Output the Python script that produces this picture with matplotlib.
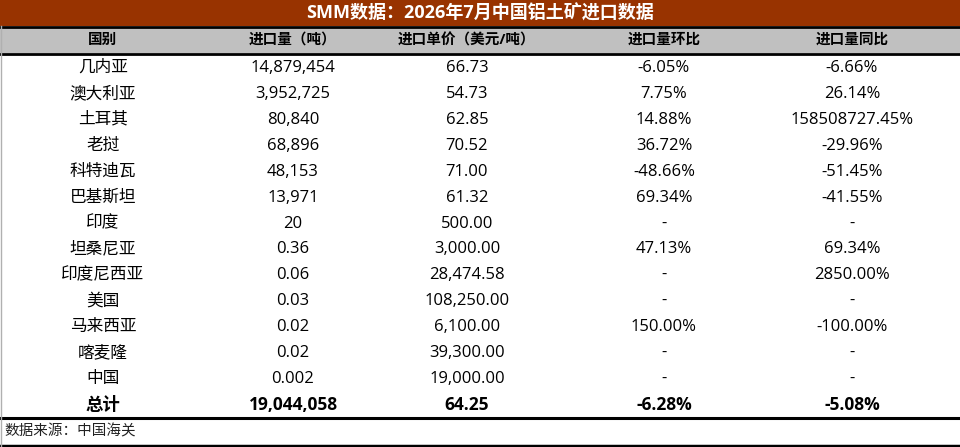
import matplotlib
matplotlib.use("Agg")
import matplotlib.pyplot as plt
from matplotlib.patches import Rectangle

plt.rcParams['font.family'] = ['Open Sans', 'Noto Sans CJK SC', 'DejaVu Sans']

title = "SMM数据：2026年7月中国铝土矿进口数据"
headers = ["国别", "进口量（吨）", "进口单价（美元/吨）", "进口量环比", "进口量同比"]
countries = ["几内亚", "澳大利亚", "土耳其", "老挝", "科特迪瓦", "巴基斯坦", "印度", "坦桑尼亚",
             "印度尼西亚", "美国", "马来西亚", "喀麦隆", "中国"]
volume = ["14,879,454", "3,952,725", "80,840", "68,896", "48,153", "13,971", "20", "0.36",
          "0.06", "0.03", "0.02", "0.02", "0.002"]
price = ["66.73", "54.73", "62.85", "70.52", "71.00", "61.32", "500.00", "3,000.00",
         "28,474.58", "108,250.00", "6,100.00", "39,300.00", "19,000.00"]
mom = ["-6.05%", "7.75%", "14.88%", "36.72%", "-48.66%", "69.34%", "-", "47.13%",
       "-", "-", "150.00%", "-", "-"]
yoy = ["-6.66%", "26.14%", "158508727.45%", "-29.96%", "-51.45%", "-41.55%", "-", "69.34%",
       "2850.00%", "-", "-100.00%", "-", "-"]
total = ["总计", "19,044,058", "64.25", "-6.28%", "-5.08%"]
source = "数据来源：中国海关"

W, H = 960, 447
fig = plt.figure(figsize=(9.6, 4.47), dpi=100)
ax = fig.add_axes([0, 0, 1, 1])
ax.set_xlim(0, W)
ax.set_ylim(H, 0)
ax.axis('off')

xs = [103, 293, 467, 664, 852]
ax.add_patch(Rectangle((0, 0), W, 26, color='#983300', lw=0))
ax.text(W / 2, 13, title, color='white', ha='center', va='center', fontsize=13, fontweight='bold')
ax.add_patch(Rectangle((0, 27), W, 26, color='#c0c0c0', lw=0))
for y, lw in [(26.5, 2), (53.5, 2), (417.5, 2.2), (446, 2.5)]:
    ax.plot([0, W], [y, y], color='black', lw=lw)
ax.plot([0.5, 0.5], [26, 447], color='#b0b0b0', lw=1)
for x, h in zip(xs, headers):
    ax.text(x, 40, h, ha='center', va='center', fontsize=10.5, fontweight='bold')

step = (379 - 68) / 12
for i, row in enumerate(zip(countries, volume, price, mom, yoy)):
    y = 68 + i * step
    for x, v in zip(xs, row):
        ax.text(x, y, v, ha='center', va='center', fontsize=12)
for x, v in zip(xs, total):
    ax.text(x, 405, v, ha='center', va='center', fontsize=12.5, fontweight='bold')
ax.text(4, 432, source, ha='left', va='center', fontsize=10.5, fontstyle='italic', color='#222222')

fig.savefig("out.png", dpi=100)
